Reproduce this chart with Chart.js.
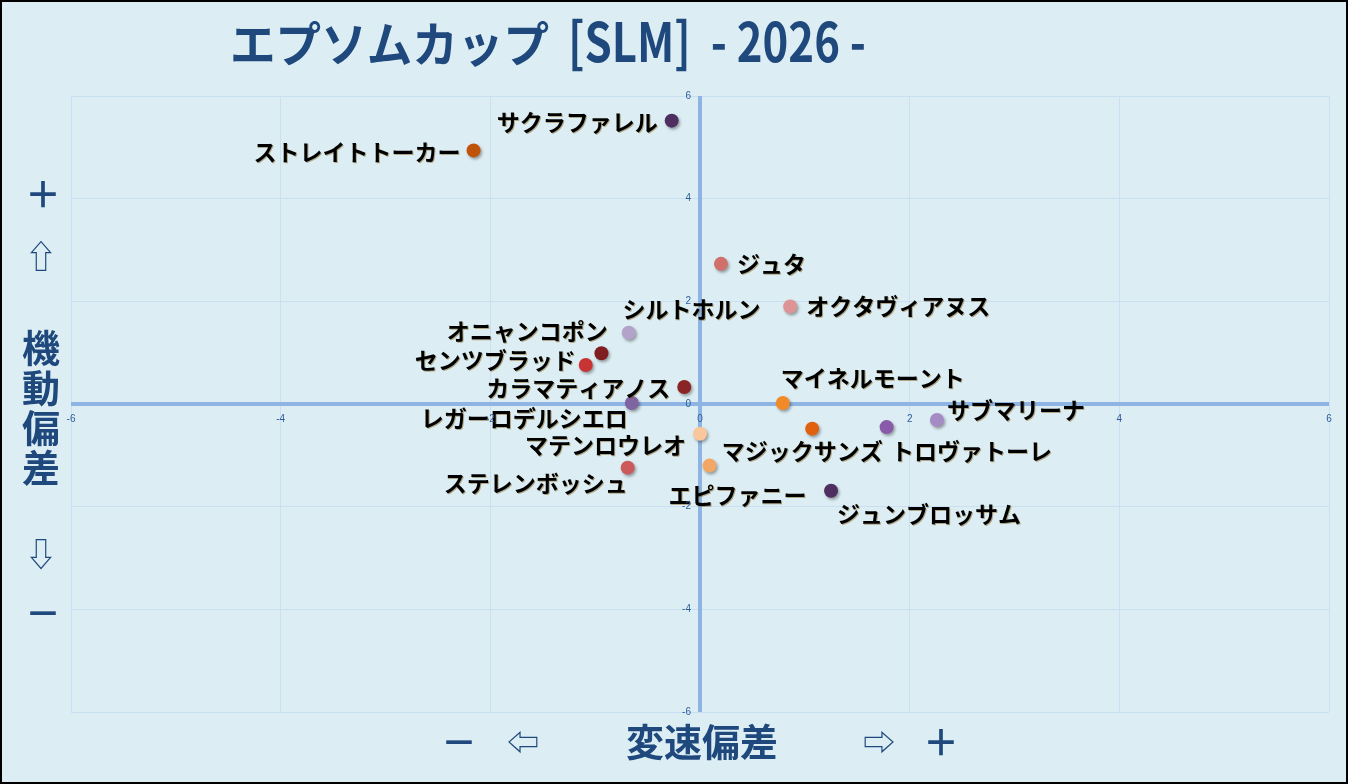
<!DOCTYPE html>
<html lang="ja">
<head>
<meta charset="utf-8">
<title>エプソムカップ [SLM] - 2026 -</title>
<script src="https://cdn.jsdelivr.net/npm/chart.js@4.4.1/dist/chart.umd.min.js"></script>
<style>
    html, body { margin: 0; padding: 0; background: #DCEEF4; }
    #wrap { position: relative; width: 1348px; height: 784px; }
    canvas { display: block; }
</style>
</head>
<body>
<div id="wrap"><canvas id="chart" width="1348" height="784"></canvas></div>
<script>
// ===== data =====
const horseNames = [
    'サクラファレル', 'ストレイトトーカー', 'ジュタ', 'オクタヴィアヌス', 'シルトホルン',
    'オニャンコポン', 'センツブラッド', 'カラマティアノス', 'レガーロデルシエロ', 'マテンロウレオ',
    'ステレンボッシュ', 'マイネルモーント', 'マジックサンズ', 'トロヴァトーレ', 'サブマリーナ',
    'エピファニー', 'ジュンブロッサム'
];
// 変速偏差 (x)
const speedDev = [-0.27, -2.16, 0.20, 0.86, -0.94, -0.68, -1.09, -0.15, -0.65, 0.00,
                  -0.69, 0.79, 1.07, 1.78, 2.26, 0.09, 1.25];
// 機動偏差 (y)
const moveDev = [5.52, 4.94, 2.73, 1.90, 0.99, 1.39, 0.76, 0.33, 0.02, -0.58,
                 -1.24, 0.02, -0.48, -0.45, -0.31, -1.20, -1.69];
const tickValues = [-6, -4, -2, 0, 2, 4, 6];

// marker colours
const pointColors = [
    '#4E2F5F', '#C0530A', '#D0706C', '#DE9494', '#7E1E20',
    '#B3A2C9', '#C83434', '#8B2425', '#8064A2', '#F9C79B',
    '#CC5A5A', '#F38A2A', '#E0620E', '#8A5AAA', '#A58BC3',
    '#F2A766', '#4E2F5F'
];
// label placement relative to the marker: [dx, dy, align]
const labelPlace = [
    [-14, 2, 'right'], [-13, 2, 'right'], [16, 0, 'left'], [16, 0, 'left'], [90, -44, 'center'],
    [-21, -1, 'right'], [-10, -5, 'right'], [-14, 1, 'right'], [-4, 15, 'right'], [-14, 11, 'right'],
    [-92, 16, 'center'], [90, -25, 'center'], [-10, 23, 'center'], [85, 24, 'center'], [10, -10, 'left'],
    [28, 30, 'center'], [98, 24, 'center']
];

const NAVY = '#1F497D';
const JP = '"Noto Sans CJK JP", "DejaVu Sans", sans-serif';

// draw text squeezed to a given width
function fitText(ctx, text, x, y, width) {
    const w = ctx.measureText(text).width;
    ctx.save();
    ctx.translate(x, y);
    ctx.scale(width / w, 1);
    ctx.textAlign = 'left';
    ctx.fillText(text, 0, 0);
    ctx.restore();
}

const overlay = {
    id: 'overlay',
    beforeDraw(chart) {
        const ctx = chart.ctx;
        ctx.save();
        ctx.fillStyle = '#DCEEF4';
        ctx.fillRect(0, 0, chart.width, chart.height);
        ctx.restore();
    },
    beforeDatasetsDraw(chart) {
        const { ctx, chartArea: a, scales: { x, y } } = chart;
        const x0 = x.getPixelForValue(0), y0 = y.getPixelForValue(0);
        ctx.save();
        ctx.strokeStyle = '#8DB4E2';
        ctx.lineWidth = 4;
        ctx.beginPath();
        ctx.moveTo(a.left, y0); ctx.lineTo(a.right, y0);
        ctx.moveTo(x0, a.top); ctx.lineTo(x0, a.bottom);
        ctx.stroke();
        ctx.restore();
    },
    beforeDatasetDraw(chart) {
        const ctx = chart.ctx;
        ctx.save();
        ctx.shadowColor = 'rgba(0,0,0,0.35)';
        ctx.shadowOffsetX = 1.5;
        ctx.shadowOffsetY = 2;
        ctx.shadowBlur = 3;
    },
    afterDatasetDraw(chart) {
        chart.ctx.restore();
    },
    afterDatasetsDraw(chart) {
        const { ctx, scales: { x, y } } = chart;
        // point labels
        ctx.save();
        ctx.font = 'bold 23px ' + JP;
        ctx.textBaseline = 'middle';
        ctx.fillStyle = '#000';
        ctx.shadowColor = 'rgba(120,80,0,0.45)';
        ctx.shadowOffsetX = 1;
        ctx.shadowOffsetY = 1;
        ctx.shadowBlur = 0;
        horseNames.forEach((name, i) => {
            const [dx, dy, align] = labelPlace[i];
            ctx.textAlign = align;
            ctx.fillText(name, x.getPixelForValue(speedDev[i]) + dx, y.getPixelForValue(moveDev[i]) + dy);
        });
        ctx.restore();

        // tick labels along the zero lines
        const x0 = x.getPixelForValue(0), y0 = y.getPixelForValue(0);
        ctx.save();
        ctx.font = '10px "Liberation Sans", sans-serif';
        ctx.fillStyle = '#2E5C9A';
        ctx.textBaseline = 'middle';
        ctx.textAlign = 'center';
        tickValues.forEach(v => ctx.fillText(String(v), x.getPixelForValue(v), y0 + 15));
        ctx.textAlign = 'right';
        tickValues.forEach(v => ctx.fillText(String(v), x0 - 9, y.getPixelForValue(v)));
        ctx.restore();
    },
    afterDraw(chart) {
        const ctx = chart.ctx;
        ctx.save();
        ctx.fillStyle = NAVY;
        ctx.textBaseline = 'alphabetic';

        // title
        ctx.font = 'bold 48px ' + JP;
        fitText(ctx, 'エプソムカップ', 230, 62, 319);
        ctx.font = 'bold 54px ' + JP;
        fitText(ctx, '[SLM]  - 2026 -', 568, 62, 298);

        // vertical axis caption
        ctx.textAlign = 'center';
        ctx.textBaseline = 'middle';
        ctx.font = 'bold 36px ' + JP;
        ctx.fillText('＋', 43, 194);
        ctx.fillText('－', 43, 613);
        ctx.font = '32px ' + JP;
        ctx.fillText('⇧', 41, 256);
        ctx.fillText('⇩', 41, 554);
        ctx.font = 'bold 38px ' + JP;
        ['機', '動', '偏', '差'].forEach((c, i) => ctx.fillText(c, 41, 348 + i * 40));

        // horizontal axis caption
        ctx.font = 'bold 36px ' + JP;
        ctx.fillText('－', 459, 742);
        ctx.fillText('＋', 941, 742);
        ctx.font = '32px ' + JP;
        ctx.fillText('⇦', 523, 742);
        ctx.fillText('⇨', 879, 742);
        ctx.font = 'bold 38px ' + JP;
        ctx.fillText('変速偏差', 702, 742);

        // frame
        ctx.strokeStyle = '#000';
        ctx.lineWidth = 2;
        ctx.strokeRect(1, 1, chart.width - 2, chart.height - 2);
        ctx.restore();
    }
};

new Chart(document.getElementById('chart').getContext('2d'), {
    type: 'scatter',
    data: {
        datasets: [{
            data: speedDev.map((v, i) => ({ x: v, y: moveDev[i] })),
            pointBackgroundColor: pointColors,
            pointBorderColor: pointColors,
            pointBorderWidth: 0,
            pointRadius: 7,
            pointHoverRadius: 7
        }]
    },
    options: {
        responsive: false,
        animation: false,
        devicePixelRatio: 1,
        layout: { padding: { left: 71, right: 19, top: 96, bottom: 72 } },
        scales: {
            x: {
                type: 'linear', min: -6, max: 6,
                ticks: { display: false, stepSize: 2 },
                grid: { color: '#C9DFF2', lineWidth: 1, drawTicks: false },
                border: { display: false }
            },
            y: {
                type: 'linear', min: -6, max: 6,
                ticks: { display: false, stepSize: 2 },
                grid: { color: '#C9DFF2', lineWidth: 1, drawTicks: false },
                border: { display: false }
            }
        },
        plugins: {
            legend: { display: false },
            tooltip: { enabled: false },
            title: { display: false }
        }
    },
    plugins: [overlay]
});
</script>
</body>
</html>
